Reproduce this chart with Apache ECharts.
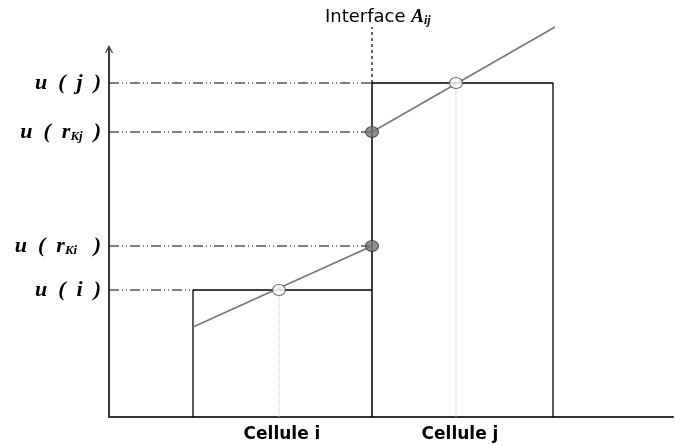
<!DOCTYPE html>
<html>
<head>
<meta charset="utf-8">
<script src="https://cdn.jsdelivr.net/npm/echarts@6/dist/echarts.min.js"></script>
<style>
  html, body { margin: 0; padding: 0; background: #fff; }
  #chart { width: 675px; height: 445px; }
</style>
</head>
<body>
<div id="chart"></div>
<script>
// levels on the u axis (schematic units)
const levelKeys = ["ui", "urKi", "urKj", "uj"];
const levelValues = [127, 171, 285, 334];
const guideEnds = [84, 263, 263, 263]; // where each dash-dot guide stops

// cells on the x axis
const cellEdges = [84, 263, 444];
const cellCenters = [170, 347];
const cellLabels = ["Cellule i", "Cellule j"];
const cellLabelPos = [173, 351];

// reconstructed slopes inside each cell
const slopeI = [[84, 90], [263, 171]];
const slopeJ = [[263, 285], [446, 390]];
const interfaceTop = 390;

const richLabel = {
  b: { fontFamily: "Liberation Serif", fontStyle: "italic", fontWeight: "bold", fontSize: 22, color: "#000" },
  s: { fontFamily: "Liberation Serif", fontStyle: "italic", fontWeight: "bold", fontSize: 13, color: "#000", padding: [10, 0, 0, 0] },
  a: { fontFamily: "Liberation Serif", fontStyle: "italic", fontWeight: "bold", fontSize: 19, color: "#000" },
  as: { fontFamily: "Liberation Serif", fontStyle: "italic", fontWeight: "bold", fontSize: 12, color: "#000", padding: [8, 0, 0, 0] },
  t: { fontFamily: "DejaVu Sans", fontSize: 18, color: "#000" }
};
const levelText = {
  ui: "{b|u  (  i  )}",
  urKi: "{b|u  (  r}{s|Ki}{b|   )}",
  urKj: "{b|u  (  r}{s|Kj}{b|  )}",
  uj: "{b|u  (  j  )}"
};

const chart = echarts.init(document.getElementById("chart"));

function seg(name, data, style, z) {
  return {
    name: name,
    type: "line",
    data: data,
    symbol: "none",
    clip: false,
    silent: true,
    z: z || 2,
    lineStyle: style
  };
}

const series = [];
levelValues.forEach((v, i) => {
  series.push(seg("guide" + i, [[0, v], [guideEnds[i], v]],
    { color: "#000", width: 1, type: [10, 3, 1, 3, 1, 3] }));
});
// cell outlines and interface
series.push(seg("cellI", [[cellEdges[0], 0], [cellEdges[0], levelValues[0]], [cellEdges[1], levelValues[0]]],
  { color: "#000", width: 1.3 }));
series.push(seg("cellJ", [[cellEdges[1], levelValues[3]], [cellEdges[2], levelValues[3]], [cellEdges[2], 0]],
  { color: "#000", width: 1.3 }));
series.push(seg("interface", [[cellEdges[1], 0], [cellEdges[1], levelValues[3]]],
  { color: "#000", width: 1.5 }));
series.push(Object.assign(seg("interfaceTop", [[cellEdges[1], levelValues[3]], [cellEdges[1], interfaceTop]],
  { color: "#000", width: 1.2, type: [3, 3] }), {
  endLabel: {
    show: true,
    formatter: "{t|Interface }{a|A}{as|ij}",
    rich: richLabel,
    offset: [-55, -10]
  }
}));
// cell centre verticals
cellCenters.forEach((c, i) => {
  series.push(seg("centre" + i, [[c, 0], [c, levelValues[i === 0 ? 0 : 3]]],
    { color: "#bbb", width: 1, type: [1, 1] }));
});
// slopes
series.push(seg("slopeI", slopeI, { color: "#777", width: 1.6 }, 3));
series.push(seg("slopeJ", slopeJ, { color: "#777", width: 1.6 }, 3));
// points
series.push({
  type: "scatter", z: 5, silent: true,
  data: [[cellCenters[0], levelValues[0]], [cellCenters[1], levelValues[3]]],
  symbol: "circle", symbolSize: [13, 11],
  itemStyle: { color: "#fff", borderColor: "#444", borderWidth: 1 }
});
series.push({
  type: "scatter", z: 5, silent: true,
  data: [[cellEdges[1], levelValues[1]], [cellEdges[1], levelValues[2]]],
  symbol: "circle", symbolSize: [13, 11],
  itemStyle: { color: "#777", borderColor: "#333", borderWidth: 1 }
});

chart.setOption({
  animation: false,
  backgroundColor: "#fff",
  grid: { left: 109, right: 2, top: 49, bottom: 28 },
  xAxis: {
    type: "value", min: 0, max: 564,
    axisLine: { show: true, lineStyle: { color: "#333", width: 2 } },
    axisTick: { show: false },
    splitLine: { show: false },
    axisLabel: {
      customValues: cellLabelPos,
      margin: 9,
      color: "#000",
      fontFamily: "DejaVu Sans",
      fontWeight: "bold",
      fontSize: 17,
      formatter: (v) => cellLabels[cellLabelPos.indexOf(v)]
    }
  },
  yAxis: {
    type: "value", min: 0, max: 368,
    axisLine: {
      show: true,
      symbol: ["none", "path://M0,10 L5,0 L10,10 L8.6,10 L5,2.8 L1.4,10 Z"],
      symbolSize: [9, 8],
      lineStyle: { color: "#222", width: 1.8 }
    },
    axisTick: { show: false },
    splitLine: { show: false },
    axisLabel: {
      customValues: levelValues,
      margin: 8,
      formatter: (v) => levelText[levelKeys[levelValues.indexOf(v)]],
      rich: richLabel
    }
  },
  series: series
});
</script>
</body>
</html>
